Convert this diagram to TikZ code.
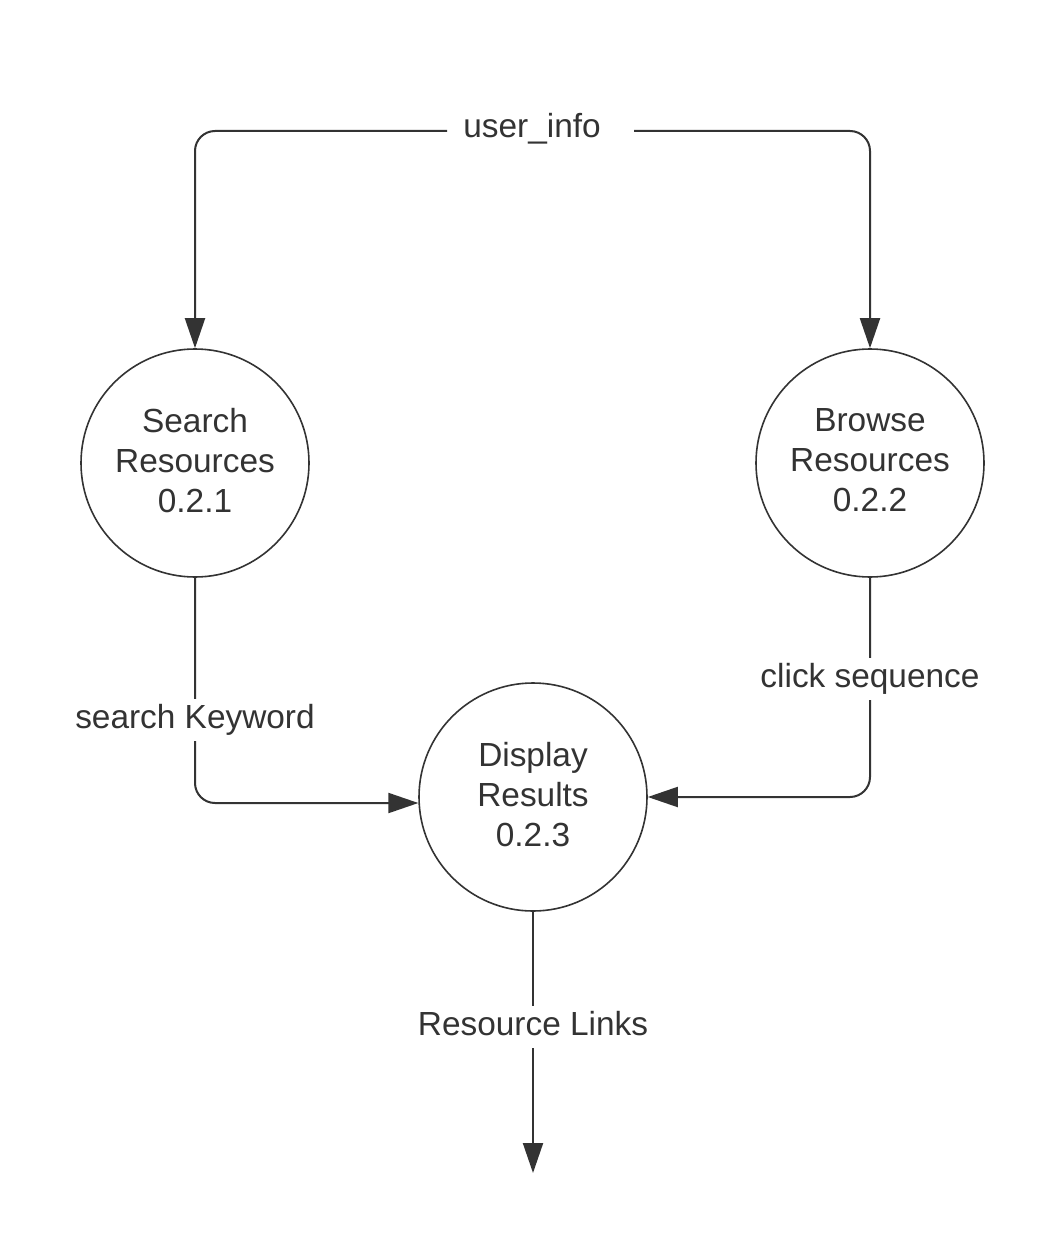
\documentclass[tikz,border=0pt]{standalone}
\usepackage{fontspec}
\setmainfont{Liberation Sans}
\usetikzlibrary{arrows.meta}
\definecolor{ink}{HTML}{333333}
\newcommand{\lowfix}{\rule[-5pt]{0pt}{0pt}}
\begin{document}
\begin{tikzpicture}[x=1pt,y=-1pt,
  proc/.style={circle, draw=ink, line width=1.6pt, minimum size=228pt, inner sep=0pt, align=center, text=ink, font=\fontsize{33.4}{40}\selectfont},
  flow/.style={draw=ink, line width=2pt, rounded corners=20pt, -{Triangle[length=30pt,width=20pt]}},
  lbl/.style={fill=white, text=ink, font=\fontsize{33.4}{40}\selectfont, inner xsep=4pt, inner ysep=0pt, text height=24pt, text depth=7pt, minimum height=42pt}
]
\useasboundingbox (0,0) rectangle (1058,1249);
\fill[white] (0,0) rectangle (1058,1249);
\node[proc] (S) at (195,463) {Search\\Resources\\0.2.1\lowfix};
\node[proc] (B) at (870,463) {Browse\\Resources\\0.2.2\lowfix};
\node[proc] (D) at (533,797) {Display\\Results\\0.2.3\lowfix};
\coordinate (uiL) at (447,131);
\coordinate (uiR) at (634,131);
\coordinate (out) at (533,1173);
\draw[flow] (uiL) -| (S.north);
\draw[flow] (uiR) -| (B.north);
\draw[flow] (S.south) |- (D.183.5);
\draw[flow] (B.south) |- (D.east);
\draw[flow] (D.south) -- (out);
\node[lbl] (ui) at (532,129) {user\_info};
\node[lbl] (sk) at (195,720) {search Keyword};
\node[lbl] (cs) at (870,679) {click sequence};
\node[lbl] (rl) at (533,1027) {Resource Links};
\end{tikzpicture}
\end{document}
